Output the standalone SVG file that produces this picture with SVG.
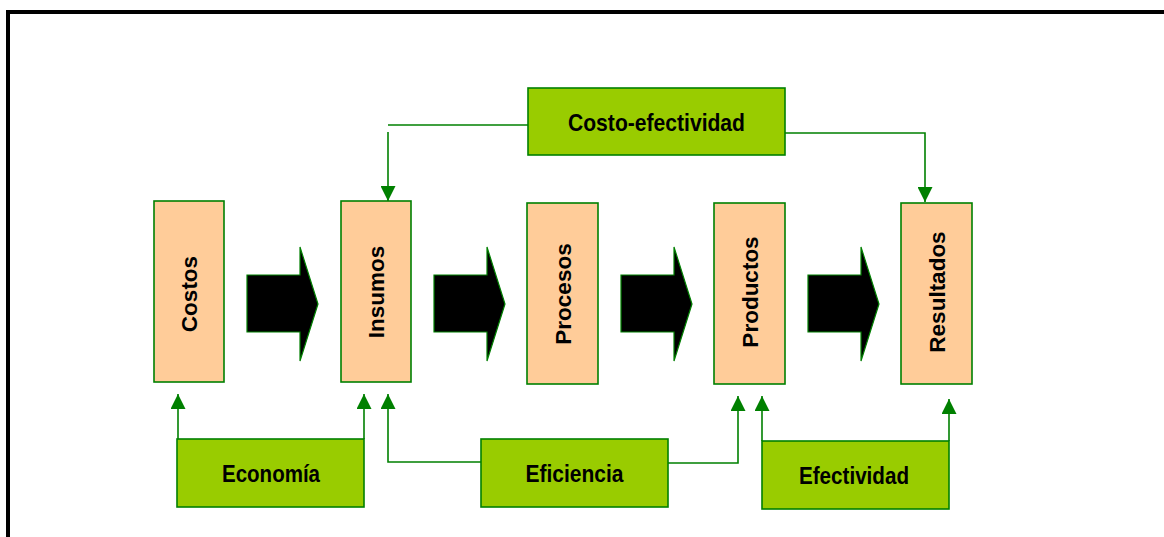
<svg xmlns="http://www.w3.org/2000/svg" width="1164" height="537" viewBox="0 0 1164 537">
<style>
.stage{fill:#FFCC99;stroke:#008000;stroke-width:1.6}
.crit{fill:#99CC00;stroke:#008000;stroke-width:1.6}
.blk{fill:#000000;stroke:#008000;stroke-width:1.2}
.conn{fill:none;stroke:#008000;stroke-width:1.6}
.t{font-family:"Liberation Sans",Arial,sans-serif;font-weight:bold;font-size:22.5px;fill:#000000;text-anchor:middle}
.h{font-size:24px}
</style>
<defs>
<marker id="ah" viewBox="0 0 15 15" refX="15" refY="7.5" markerWidth="15" markerHeight="15" orient="auto" markerUnits="userSpaceOnUse">
<path d="M0,0 L15,7.5 L0,15 Z" fill="#008000"/>
</marker>
<path id="bigarrow" d="M0,28 H53 V0 L71,57 L53,114 V85 H0 Z"/>
</defs>
<rect width="1164" height="537" fill="#ffffff"/>
<path d="M8,537 V12 H1164" fill="none" stroke="#000000" stroke-width="4"/>

<g id="flow-arrows">
<use href="#bigarrow" class="blk" x="247" y="247"/>
<use href="#bigarrow" class="blk" x="434" y="247"/>
<use href="#bigarrow" class="blk" x="621" y="247"/>
<use href="#bigarrow" class="blk" x="808" y="247"/>
</g>

<g id="connectors">
<path class="conn" d="M528,125 H388"/>
<path class="conn" d="M388,132 V201" marker-end="url(#ah)"/>
<path class="conn" d="M785,133 H925 V202" marker-end="url(#ah)"/>
<path class="conn" d="M178,439 V394" marker-end="url(#ah)"/>
<path class="conn" d="M364,439 V394" marker-end="url(#ah)"/>
<path class="conn" d="M481,462 H388 V394" marker-end="url(#ah)"/>
<path class="conn" d="M668,463 H738 V396" marker-end="url(#ah)"/>
<path class="conn" d="M762,441 V396" marker-end="url(#ah)"/>
<path class="conn" d="M949,441 V399" marker-end="url(#ah)"/>
</g>

<g id="costos">
<rect class="stage" x="154" y="201" width="70" height="181"/>
<text class="t" transform="translate(197,294) rotate(-90)">Costos</text>
</g>
<g id="insumos">
<rect class="stage" x="341" y="201" width="70" height="181"/>
<text class="t" transform="translate(384,292) rotate(-90)">Insumos</text>
</g>
<g id="procesos">
<rect class="stage" x="527" y="203" width="71" height="181"/>
<text class="t" transform="translate(571,294) rotate(-90)">Procesos</text>
</g>
<g id="productos">
<rect class="stage" x="714" y="203" width="71" height="181"/>
<text class="t" transform="translate(758,292) rotate(-90)">Productos</text>
</g>
<g id="resultados">
<rect class="stage" x="901" y="203" width="71" height="181"/>
<text class="t" transform="translate(945,292) rotate(-90)">Resultados</text>
</g>

<g id="costo-efectividad">
<rect class="crit" x="528" y="88" width="257" height="67"/>
<text class="t h" x="656.5" y="131" textLength="177" lengthAdjust="spacingAndGlyphs">Costo-efectividad</text>
</g>
<g id="economia">
<rect class="crit" x="177" y="439" width="187" height="68"/>
<text class="t h" x="271" y="482" textLength="98" lengthAdjust="spacingAndGlyphs">Economía</text>
</g>
<g id="eficiencia">
<rect class="crit" x="481" y="439" width="187" height="68"/>
<text class="t h" x="574.5" y="482" textLength="98" lengthAdjust="spacingAndGlyphs">Eficiencia</text>
</g>
<g id="efectividad">
<rect class="crit" x="762" y="441" width="187" height="68"/>
<text class="t h" x="854" y="484" textLength="110" lengthAdjust="spacingAndGlyphs">Efectividad</text>
</g>
</svg>
